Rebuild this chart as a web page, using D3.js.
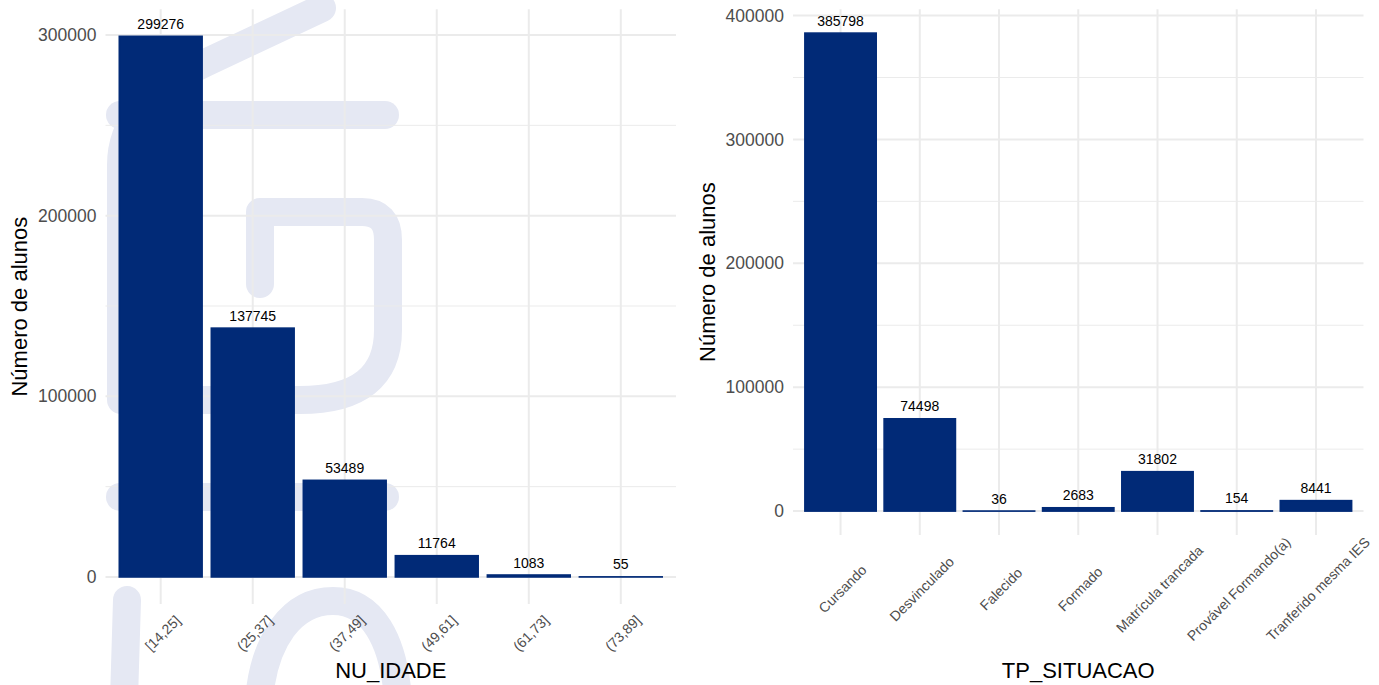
<!DOCTYPE html>
<html>
<head>
<meta charset="utf-8">
<script src="https://cdn.jsdelivr.net/npm/d3@7"></script>
<style>
  body { margin: 0; background: #fff; }
  svg { display: block; font-family: "Liberation Sans", Arial, Helvetica, sans-serif; }
</style>
</head>
<body>
<div id="chart"></div>
<script>
////////////////////////////////////////////////////////////////////
////////////////////////////  Data  ////////////////////////////////
const idadeLabels = ["[14,25]", "(25,37]", "(37,49]", "(49,61]", "(61,73]", "(73,89]"];
const idadeCounts = [299276, 137745, 53489, 11764, 1083, 55];
const idadeTicks = [0, 100000, 200000, 300000];

const situacaoLabels = [
  "Cursando",
  "Desvinculado",
  "Falecido",
  "Formado",
  "Matrícula trancada",
  "Provável Formando(a)",
  "Tranferido mesma IES",
];
const situacaoCounts = [385798, 74498, 36, 2683, 31802, 154, 8441];
const situacaoTicks = [0, 100000, 200000, 300000, 400000];

const yTitle = "Número de alunos";

////////////////////////////////////////////////////////////////////
////////////////////////////  Init  ////////////////////////////////
const width = 1379;
const height = 685;
const barColor = "#012a77";
const gridColor = "#ebebeb";
const tickColor = "#4d4d4d";

const svg = d3
  .select("#chart")
  .append("svg")
  .attr("width", width)
  .attr("height", height);

svg.append("rect").attr("width", width).attr("height", height).attr("fill", "#fff");

// faint logo watermark behind the left plot
const watermark = [
  "M322,8 L205,63 Q121,103 121,165 L121,400",
  "M120,115 L385,115",
  "M260,284 L260,212 L362,212 Q388,212 388,240 L388,330 Q388,400 300,400 L200,400",
  "M120,497 L385,497",
  "M127,600 L124,700",
  "M259,700 C264,640 292,601 333,601 C372,601 394,640 398,700",
];
svg
  .append("g")
  .selectAll("path")
  .data(watermark)
  .join("path")
  .attr("d", (d) => d)
  .attr("fill", "none")
  .attr("stroke", "#e5e8f3")
  .attr("stroke-width", 28)
  .attr("stroke-linecap", "round")
  .attr("stroke-linejoin", "round");

////////////////////////////////////////////////////////////////////
////////////////////////////  Panels  //////////////////////////////
function drawPanel({ cats, values, ticks, xTitle, left, right, top, bottom, labelOffset }) {
  const g = svg.append("g");
  const maxV = d3.max(values);

  // ggplot style expansion: 5% on y, 0.6 category on x
  const x = d3
    .scaleBand()
    .domain(cats)
    .range([left, right])
    .paddingInner(0.1)
    .paddingOuter(0.15);

  const y = d3
    .scaleLinear()
    .domain([-0.05 * maxV, 1.05 * maxV])
    .range([bottom, top]);

  const step = ticks[1] - ticks[0];
  const minor = d3.pairs(ticks, (a, b) => (a + b) / 2);
  const last = ticks[ticks.length - 1];
  if (y(last + step / 2) >= top) minor.push(last + step / 2);

  // grid
  g.append("g")
    .selectAll("line")
    .data(minor)
    .join("line")
    .attr("x1", left)
    .attr("x2", right)
    .attr("y1", (d) => y(d))
    .attr("y2", (d) => y(d))
    .attr("stroke", gridColor)
    .attr("stroke-width", 1);

  g.append("g")
    .selectAll("line")
    .data(ticks)
    .join("line")
    .attr("x1", left)
    .attr("x2", right)
    .attr("y1", (d) => y(d))
    .attr("y2", (d) => y(d))
    .attr("stroke", gridColor)
    .attr("stroke-width", 2);

  g.append("g")
    .selectAll("line")
    .data(cats)
    .join("line")
    .attr("x1", (d) => x(d) + x.bandwidth() / 2)
    .attr("x2", (d) => x(d) + x.bandwidth() / 2)
    .attr("y1", top)
    .attr("y2", bottom)
    .attr("stroke", gridColor)
    .attr("stroke-width", 2);

  // bars (with an outline in the fill colour, like geom_col(colour=...))
  g.append("g")
    .selectAll("rect")
    .data(cats)
    .join("rect")
    .attr("x", (d) => x(d))
    .attr("width", x.bandwidth())
    .attr("y", (d, i) => y(values[i]))
    .attr("height", (d, i) => y(0) - y(values[i]))
    .attr("fill", barColor)
    .attr("stroke", barColor)
    .attr("stroke-width", 1.6);

  // value labels
  g.append("g")
    .selectAll("text")
    .data(cats)
    .join("text")
    .attr("x", (d) => x(d) + x.bandwidth() / 2)
    .attr("y", (d, i) => y(values[i]) - 7.5)
    .attr("text-anchor", "middle")
    .attr("font-size", 14)
    .attr("fill", "#000")
    .text((d, i) => values[i]);

  // y axis
  const yAxis = g
    .append("g")
    .attr("transform", `translate(${left},0)`)
    .call(d3.axisLeft(y).tickValues(ticks).tickFormat(d3.format("d")).tickSize(0).tickPadding(9));
  yAxis.select(".domain").remove();
  yAxis.selectAll("text").attr("font-size", 17.5).attr("fill", tickColor).attr("font-family", null);

  // x axis, labels rotated 45 and centred on the tick
  const xAxis = g
    .append("g")
    .attr("transform", `translate(0,${bottom})`)
    .call(d3.axisBottom(x).tickSize(0));
  xAxis.select(".domain").remove();
  xAxis
    .selectAll("text")
    .attr("font-size", 14)
    .attr("fill", tickColor)
    .attr("font-family", null)
    .attr("y", 0)
    .attr("dy", null)
    .attr("text-anchor", "middle")
    .attr("dominant-baseline", "central")
    .attr("transform", `translate(2,${labelOffset}) rotate(-45)`);

  // titles
  g.append("text")
    .attr("x", (left + right) / 2)
    .attr("y", 678)
    .attr("text-anchor", "middle")
    .attr("font-size", 22)
    .attr("fill", "#000")
    .text(xTitle);

  g.append("text")
    .attr("transform", `translate(${left - 86},${(top + bottom) / 2}) rotate(-90)`)
    .attr("text-anchor", "middle")
    .attr("dominant-baseline", "central")
    .attr("font-size", 22)
    .attr("fill", "#000")
    .text(yTitle);
}

drawPanel({
  cats: idadeLabels,
  values: idadeCounts,
  ticks: idadeTicks,
  xTitle: "NU_IDADE",
  left: 105.5,
  right: 676,
  top: 9.3,
  bottom: 604,
  labelOffset: 29,
});

drawPanel({
  cats: situacaoLabels,
  values: situacaoCounts,
  ticks: situacaoTicks,
  xTitle: "TP_SITUACAO",
  left: 793,
  right: 1363.5,
  top: 9.2,
  bottom: 535,
  labelOffset: 54,
});
</script>
</body>
</html>
